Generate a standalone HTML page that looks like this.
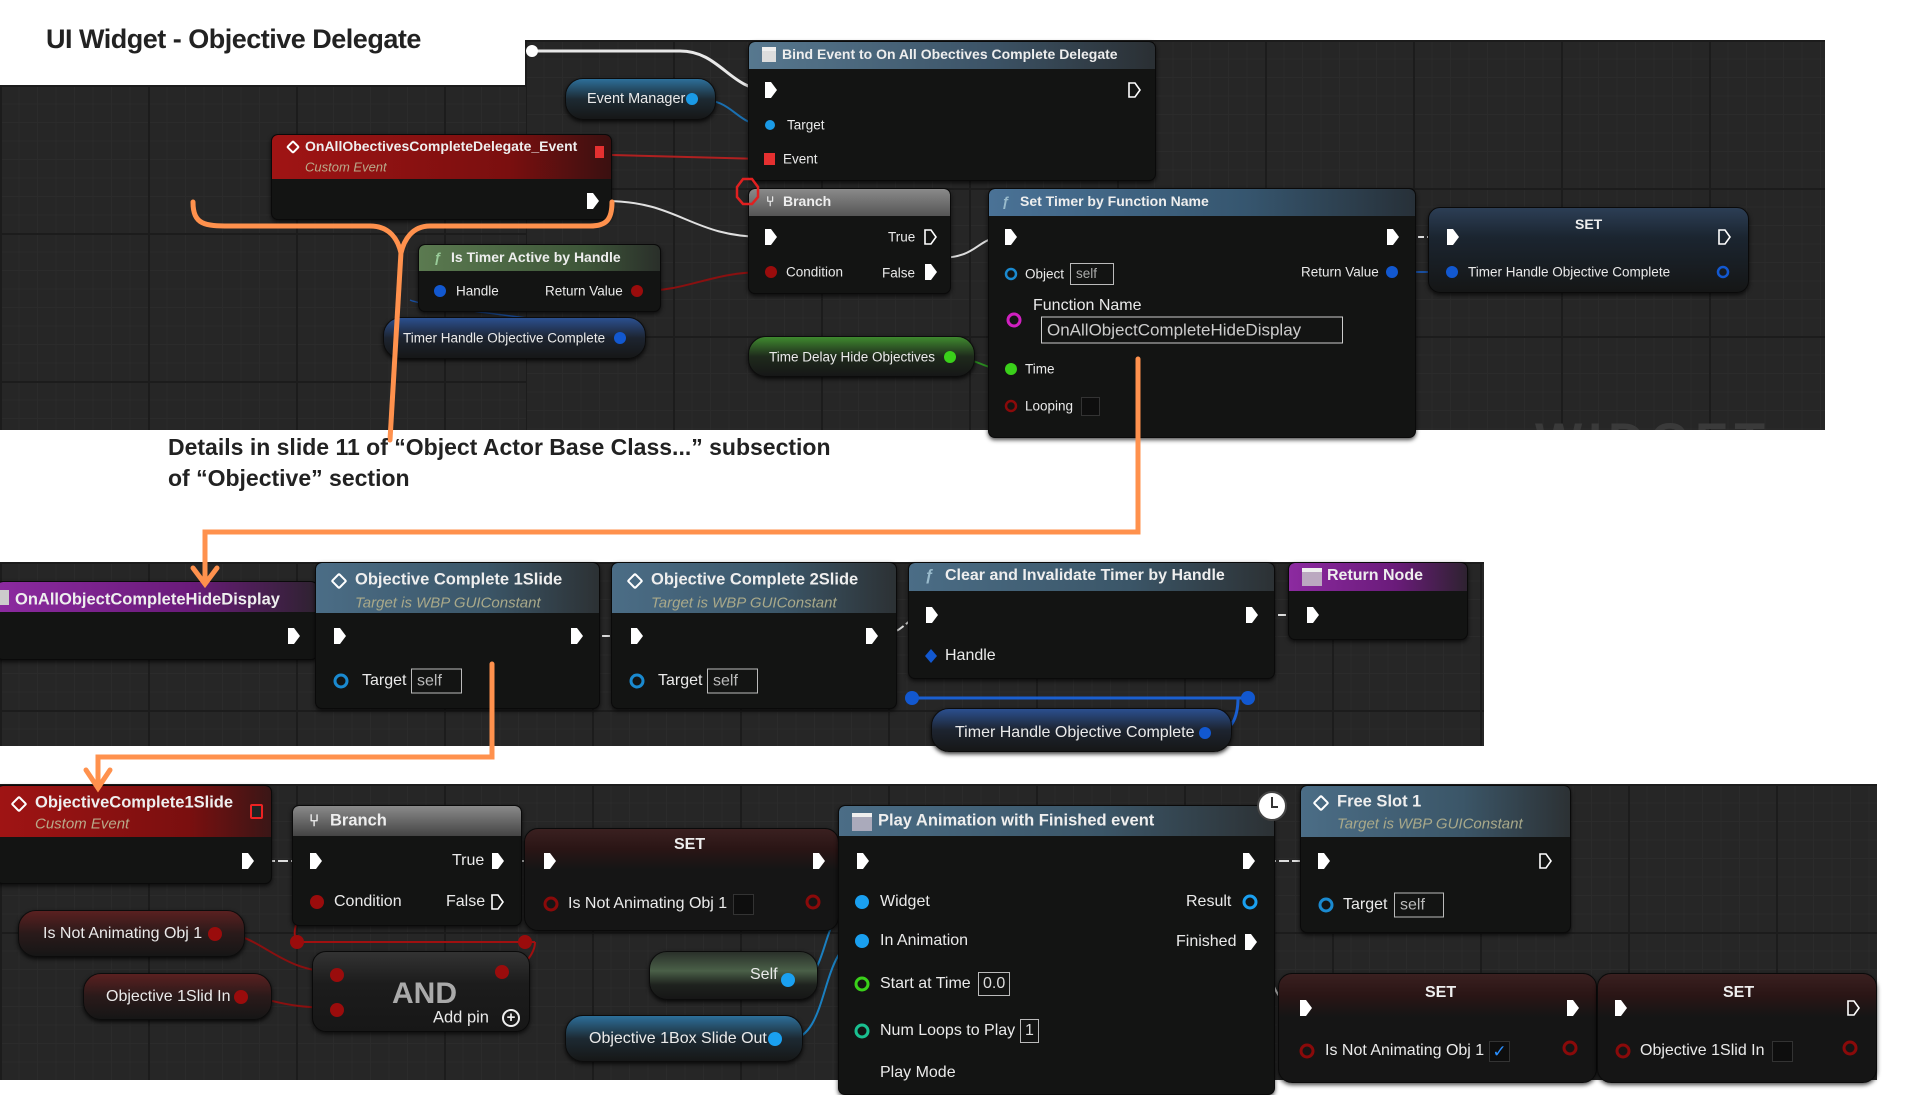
<!DOCTYPE html>
<html><head><meta charset="utf-8"><style>
*{margin:0;padding:0;box-sizing:border-box}
body{width:1920px;height:1080px;background:#fff;position:relative;overflow:hidden;font-family:"Liberation Sans",sans-serif}
.pan{position:absolute;background-color:#262626;background-image:linear-gradient(#1c1c1c 2px,transparent 2px),linear-gradient(90deg,#1c1c1c 2px,transparent 2px),linear-gradient(#2b2b2b 1px,transparent 1px),linear-gradient(90deg,#2b2b2b 1px,transparent 1px);background-size:148px 148px,148px 148px,18.5px 18.5px,18.5px 18.5px}
.n{position:absolute;background:#131413;border-radius:7px;box-shadow:0 2px 4px rgba(0,0,0,.7);border:1px solid #0a0a0a;overflow:hidden}
.h{position:absolute;left:0;right:0;top:0;border-radius:6px 6px 0 0}
.t{position:absolute;color:#eaeaea;font-size:14.5px;white-space:nowrap;transform:translateY(-50%)}
.ht{position:absolute;color:#eee;font-size:15px;font-weight:bold;white-space:nowrap;transform:translateY(-50%)}
.sub{position:absolute;color:#b9a98a;font-size:14px;font-style:italic;white-space:nowrap;transform:translateY(-50%)}
.pill{position:absolute;border-radius:18px;background:linear-gradient(#2a2d2f,#1a1b1b 60%,#151616);box-shadow:0 2px 4px rgba(0,0,0,.8);border:1px solid #0c0c0c}
.box{position:absolute;border:1px solid #bbb;color:#ddd;font-size:15px;padding:0 5px;transform:translateY(-50%);white-space:nowrap;line-height:20px}
.dia{position:absolute;width:12px;height:12px;border:2.5px solid #fff;border-left-color:#fff;transform:translate(-50%,-50%) rotate(45deg);border-radius:2px}
</style></head><body>

<!-- panels -->
<div class="pan" style="left:525px;top:40px;width:1300px;height:390px;overflow:hidden"><div style="position:absolute;left:1010px;top:372px;font-size:50px;font-weight:bold;color:#3a3a3a;letter-spacing:6px">WIDGET BL</div></div>
<div class="pan" style="left:0;top:85px;width:526px;height:345px"></div>
<div class="pan" style="left:0;top:562px;width:1484px;height:184px"></div>
<div class="pan" style="left:0;top:784px;width:1877px;height:296px"></div>

<div style="position:absolute;left:46px;top:24px;font-size:27px;font-weight:bold;color:#222;letter-spacing:-0.5px">UI Widget - Objective Delegate</div>

<!-- wires -->
<svg style="position:absolute;left:0;top:0" width="1920" height="1080">
<g fill="none" stroke-width="2">
<path d="M532 51 H680 C720 51 730 90 768 90" stroke="#e8e8e8" stroke-width="3"/>
<path d="M697 99 C735 99 735 125 765 125" stroke="#1a6fb0"/>
<path d="M612 155 L765 159" stroke="#b02020"/>
<path d="M605 201 C680 201 690 237 765 237" stroke="#e0e0e0"/>
<path d="M640 291 C690 291 710 272 765 272" stroke="#8a1010"/>
<path d="M628 335 C700 335 430 310 410 300" stroke="#1a4fa0" stroke-width="1.5"/>
<path d="M945 357 C980 357 980 369 1005 369" stroke="#2a8a20"/>
<path d="M938 258 C980 258 975 237 1005 237" stroke="#ddd"/>
<path d="M1400 237 H1448" stroke="#ddd" stroke-dasharray="6 3"/>
<path d="M1405 272 H1448" stroke="#1a4fa0"/>
<path d="M298 636 H334 M580 636 H631 M876 636 C905 636 905 615 928 615 M1256 615 H1307" stroke="#ddd" stroke-dasharray="8 3"/>
<path d="M912 698 H1250 M1238 698 C1238 720 1230 730 1218 735" stroke="#1a5fd0" stroke-width="3"/>
<path d="M252 861 H310 M502 861 H544 M823 861 H857 M1253 861 H1318 M1577 1008 H1615" stroke="#ddd" stroke-dasharray="10 3"/>
<path d="M1252 942 C1270 942 1265 1008 1300 1008" stroke="#ccc"/>
<path d="M297 942 H535 M297 942 C290 930 300 910 315 902 M535 942 C535 955 520 970 512 972" stroke="#a01010"/>
<path d="M225 934 C260 934 280 972 335 972" stroke="#8a1010"/>
<path d="M245 997 C270 997 280 1008 335 1008" stroke="#8a1010"/>
<path d="M800 980 C830 980 820 902 860 902 M790 1039 C830 1039 820 941 860 941" stroke="#1a7fc0"/>
</g>
</svg>

<!-- TOP nodes -->
<div class="pill" style="left:565px;top:78px;width:151px;height:42px;background:linear-gradient(#2d6f9a,#1d2a33 50%,#161717)"></div>
<div class="t" style="left:587px;top:99px">Event Manager</div>

<div class="n" style="left:748px;top:41px;width:408px;height:140px"><div class="h" style="height:27px;background:linear-gradient(90deg,#57788f,#3c5366 60%,#2a2f33)"></div></div>
<div style="position:absolute;left:762px;top:47px;width:14px;height:15px;background:#ddd;border-top:4px solid #eee"></div>
<div class="ht" style="left:782px;top:54px;font-size:14px">Bind Event to On All Obectives Complete Delegate</div>
<div class="t" style="left:787px;top:125px;font-size:13.5px">Target</div>
<div class="t" style="left:783px;top:159px;font-size:13.5px">Event</div>

<div class="n" style="left:271px;top:134px;width:341px;height:86px"><div class="h" style="height:44px;background:linear-gradient(90deg,#a01414,#7a0f0f 70%,#3a1010)"></div></div>
<div class="dia" style="left:293px;top:147px;width:10px;height:10px;border-width:2px"></div>
<div class="ht" style="left:305px;top:146px;font-size:14px">OnAllObectivesCompleteDelegate_Event</div>
<div class="sub" style="left:305px;top:167px;font-size:13px">Custom Event</div>

<div class="n" style="left:748px;top:188px;width:203px;height:106px"><div class="h" style="height:27px;background:linear-gradient(#8a8a8a,#555)"></div></div>
<div class="ht" style="left:766px;top:201px;font-size:14px">⑂</div>
<div class="ht" style="left:783px;top:201px;font-size:14px">Branch</div>
<div class="t" style="left:786px;top:272px;font-size:13.5px">Condition</div>
<div class="t" style="left:888px;top:237px;font-size:13.5px">True</div>
<div class="t" style="left:882px;top:273px;font-size:13.5px">False</div>

<div class="n" style="left:418px;top:244px;width:243px;height:68px"><div class="h" style="height:26px;background:linear-gradient(90deg,#5b7a50,#3d5538 70%,#2a2f2a)"></div></div>
<div class="ht" style="left:434px;top:257px;font-size:14px;color:#9c9">ƒ</div>
<div class="ht" style="left:451px;top:257px;font-size:14px">Is Timer Active by Handle</div>
<div class="t" style="left:456px;top:291px;font-size:13.5px">Handle</div>
<div class="t" style="left:545px;top:291px;font-size:13.5px">Return Value</div>

<div class="pill" style="left:383px;top:317px;width:263px;height:42px;background:linear-gradient(#2b4f8f,#1d2430 50%,#161717)"></div>
<div class="t" style="left:403px;top:338px;font-size:13.5px">Timer Handle Objective Complete</div>

<div class="pill" style="left:748px;top:336px;width:227px;height:41px;background:linear-gradient(#3f8a2f,#1f2a1c 50%,#161717)"></div>
<div class="t" style="left:769px;top:357px;font-size:13.5px">Time Delay Hide Objectives</div>

<div class="n" style="left:988px;top:188px;width:428px;height:250px"><div class="h" style="height:27px;background:linear-gradient(90deg,#4a7296,#36566f 60%,#273038)"></div></div>
<div class="ht" style="left:1002px;top:201px;font-size:14px;color:#9bc">ƒ</div>
<div class="ht" style="left:1020px;top:201px;font-size:14px">Set Timer by Function Name</div>
<div class="t" style="left:1025px;top:274px;font-size:13.5px">Object</div>
<div class="box" style="left:1070px;top:274px;font-size:13.5px;width:44px;color:#aaa">self</div>
<div class="t" style="left:1033px;top:306px;font-size:16px">Function Name</div>
<div class="box" style="left:1041px;top:330px;width:302px;height:27px;font-size:17px;line-height:25px;color:#ccc;border-color:#ccc">OnAllObjectCompleteHideDisplay</div>
<div class="t" style="left:1025px;top:369px;font-size:13.5px">Time</div>
<div class="t" style="left:1025px;top:406px;font-size:13.5px">Looping</div>
<div style="position:absolute;left:1081px;top:397px;width:19px;height:19px;border:1px solid #333;background:#0e0e0e"></div>
<div class="t" style="left:1301px;top:272px;font-size:13.5px">Return Value</div>

<div class="n" style="left:1428px;top:207px;width:321px;height:86px;border-radius:12px;background:linear-gradient(#2c3e55,#1b2530 35%,#151616)"></div>
<div class="ht" style="left:1575px;top:224px;font-size:14px;font-weight:bold">SET</div>
<div class="t" style="left:1468px;top:272px;font-size:13.5px">Timer Handle Objective Complete</div>

<!-- MIDDLE nodes -->
<div class="n" style="left:-4px;top:581px;width:322px;height:79px"><div class="h" style="height:30px;background:linear-gradient(90deg,#8c2aa0,#6a1b7a 60%,#2e2230)"></div></div>
<div style="position:absolute;left:0;top:590px;width:9px;height:15px;background:#ccc"></div>
<div class="ht" style="left:15px;top:600px;font-size:16.5px">OnAllObjectCompleteHideDisplay</div>

<div class="n" style="left:315px;top:562px;width:285px;height:147px"><div class="h" style="height:50px;background:linear-gradient(90deg,#4b6d86,#3b5668 60%,#2c3134)"></div></div>
<div class="dia" style="left:339px;top:581px"></div>
<div class="ht" style="left:355px;top:580px;font-size:16.5px">Objective Complete 1Slide</div>
<div class="sub" style="left:355px;top:603px;font-size:15px;color:#a9a98a">Target is WBP GUIConstant</div>
<div class="t" style="left:362px;top:681px;font-size:16px">Target</div>
<div class="box" style="left:411px;top:681px;width:51px;height:25px;line-height:23px;font-size:16px;color:#bbb">self</div>

<div class="n" style="left:611px;top:562px;width:286px;height:147px"><div class="h" style="height:50px;background:linear-gradient(90deg,#4b6d86,#3b5668 60%,#2c3134)"></div></div>
<div class="dia" style="left:635px;top:581px"></div>
<div class="ht" style="left:651px;top:580px;font-size:16.5px">Objective Complete 2Slide</div>
<div class="sub" style="left:651px;top:603px;font-size:15px;color:#a9a98a">Target is WBP GUIConstant</div>
<div class="t" style="left:658px;top:681px;font-size:16px">Target</div>
<div class="box" style="left:707px;top:681px;width:51px;height:25px;line-height:23px;font-size:16px;color:#bbb">self</div>

<div class="n" style="left:908px;top:562px;width:367px;height:117px"><div class="h" style="height:28px;background:linear-gradient(90deg,#4b6d86,#3b5668 60%,#2c3134)"></div></div>
<div class="ht" style="left:925px;top:576px;font-size:16px;color:#9bc">ƒ</div>
<div class="ht" style="left:945px;top:576px;font-size:16px">Clear and Invalidate Timer by Handle</div>
<div class="t" style="left:945px;top:656px;font-size:16px">Handle</div>

<div class="n" style="left:1288px;top:562px;width:180px;height:78px"><div class="h" style="height:28px;background:linear-gradient(90deg,#8c2aa0,#6a1b7a 60%,#2e2230)"></div></div>
<div style="position:absolute;left:1302px;top:568px;width:20px;height:18px;background:#bba8c0;border-top:4px solid #eee"></div>
<div class="ht" style="left:1327px;top:576px;font-size:16px">Return Node</div>

<div class="pill" style="left:931px;top:708px;width:301px;height:44px;background:linear-gradient(#2b4f8f,#1d2430 50%,#161717)"></div>
<div class="t" style="left:955px;top:733px;font-size:16px">Timer Handle Objective Complete</div>

<!-- BOTTOM nodes -->
<div class="n" style="left:-4px;top:785px;width:276px;height:99px"><div class="h" style="height:51px;background:linear-gradient(90deg,#a01414,#7a0f0f 70%,#3a1616)"></div></div>
<div class="dia" style="left:19px;top:804px"></div>
<div class="ht" style="left:35px;top:803px;font-size:16.5px">ObjectiveComplete1Slide</div>
<div class="sub" style="left:35px;top:824px;font-size:15px">Custom Event</div>
<div style="position:absolute;left:250px;top:804px;width:13px;height:15px;border:2px solid #e22;background:#222;border-radius:2px"></div>

<div class="n" style="left:292px;top:805px;width:230px;height:121px"><div class="h" style="height:30px;background:linear-gradient(#8a8a8a,#444)"></div></div>
<div class="ht" style="left:309px;top:821px;font-size:17px">⑂</div>
<div class="ht" style="left:330px;top:821px;font-size:16.5px">Branch</div>
<div class="t" style="left:334px;top:902px;font-size:16px">Condition</div>
<div class="t" style="left:452px;top:861px;font-size:16px">True</div>
<div class="t" style="left:446px;top:902px;font-size:16px">False</div>

<div class="n" style="left:524px;top:828px;width:315px;height:103px;border-radius:14px;background:linear-gradient(#3a2020,#2a1515 20%,#151515 40%)"></div>
<div class="ht" style="left:674px;top:845px;font-size:16px">SET</div>
<div class="t" style="left:568px;top:904px;font-size:16px">Is Not Animating Obj 1</div>
<div style="position:absolute;left:733px;top:894px;width:21px;height:21px;background:#0e0e0e;border:1px solid #333"></div>

<div class="n" style="left:838px;top:805px;width:437px;height:290px"><div class="h" style="height:30px;background:linear-gradient(90deg,#4b6d86,#3b5668 60%,#2c3134)"></div></div>
<div style="position:absolute;left:852px;top:813px;width:20px;height:18px;background:#aab;border-top:4px solid #eee"></div>
<div class="ht" style="left:878px;top:821px;font-size:16.5px">Play Animation with Finished event</div>
<div class="t" style="left:880px;top:902px;font-size:16px">Widget</div>
<div class="t" style="left:880px;top:941px;font-size:16px">In Animation</div>
<div class="t" style="left:880px;top:984px;font-size:16px">Start at Time</div>
<div class="box" style="left:978px;top:984px;font-size:16px;padding:0 4px;height:24px;line-height:22px">0.0</div>
<div class="t" style="left:880px;top:1031px;font-size:16px">Num Loops to Play</div>
<div class="box" style="left:1020px;top:1031px;font-size:16px;padding:0 4px;height:24px;line-height:22px">1</div>
<div class="t" style="left:880px;top:1073px;font-size:16px">Play Mode</div>
<div class="t" style="left:1186px;top:902px;font-size:16px">Result</div>
<div class="t" style="left:1176px;top:942px;font-size:16px">Finished</div>
<div style="position:absolute;left:1257px;top:791px;width:30px;height:30px;border-radius:50%;background:#fff;border:2px solid #444"></div>
<div style="position:absolute;left:1271px;top:797px;width:2px;height:11px;background:#333"></div>
<div style="position:absolute;left:1271px;top:806px;width:7px;height:2px;background:#333"></div>

<div class="n" style="left:1300px;top:785px;width:271px;height:148px"><div class="h" style="height:51px;background:linear-gradient(90deg,#4b6d86,#3b5668 60%,#2c3134)"></div></div>
<div class="dia" style="left:1321px;top:803px"></div>
<div class="ht" style="left:1337px;top:802px;font-size:16.5px">Free Slot 1</div>
<div class="sub" style="left:1337px;top:824px;font-size:15px;color:#a9a98a">Target is WBP GUIConstant</div>
<div class="t" style="left:1343px;top:905px;font-size:16px">Target</div>
<div class="box" style="left:1394px;top:905px;width:50px;height:25px;line-height:23px;font-size:16px;color:#bbb">self</div>

<div class="n" style="left:1278px;top:973px;width:319px;height:110px;border-radius:14px;background:linear-gradient(#3a2020,#2a1515 20%,#151515 40%)"></div>
<div class="ht" style="left:1425px;top:993px;font-size:16px">SET</div>
<div class="t" style="left:1325px;top:1051px;font-size:16px">Is Not Animating Obj 1</div>
<div style="position:absolute;left:1489px;top:1041px;width:21px;height:21px;background:#0e0e0e;border:1px solid #333;color:#2a8fff;font-size:17px;line-height:19px;text-align:center">✓</div>
<div class="n" style="left:1597px;top:973px;width:280px;height:110px;border-radius:14px;background:linear-gradient(#3a2020,#2a1515 20%,#151515 40%)"></div>
<div class="ht" style="left:1723px;top:993px;font-size:16px">SET</div>
<div class="t" style="left:1640px;top:1051px;font-size:16px">Objective 1Slid In</div>
<div style="position:absolute;left:1772px;top:1041px;width:21px;height:21px;background:#0e0e0e;border:1px solid #333"></div>

<div class="pill" style="left:18px;top:910px;width:227px;height:47px;background:linear-gradient(#5a2020,#2a1a1a 50%,#161616)"></div>
<div class="t" style="left:43px;top:934px;font-size:16px">Is Not Animating Obj 1</div>
<div class="pill" style="left:83px;top:973px;width:189px;height:47px;background:linear-gradient(#5a2020,#2a1a1a 50%,#161616)"></div>
<div class="t" style="left:106px;top:997px;font-size:16px">Objective 1Slid In</div>
<div class="n" style="left:312px;top:951px;width:218px;height:81px;border-radius:14px;background:linear-gradient(#333,#1c1c1c 40%,#171717)"></div>
<div class="ht" style="left:392px;top:994px;font-size:30px;color:#aaa">AND</div>
<div class="t" style="left:433px;top:1018px;font-size:16.5px">Add pin</div>
<div style="position:absolute;left:502px;top:1009px;width:18px;height:18px;border:2px solid #eee;border-radius:50%;color:#eee;font-size:15px;line-height:13px;text-align:center;font-weight:bold">+</div>
<div class="pill" style="left:649px;top:951px;width:169px;height:49px;background:linear-gradient(#2a302a,#4a6048 40%,#1e221e 70%,#161616)"></div>
<div class="t" style="left:750px;top:975px;font-size:16px">Self</div>
<div class="pill" style="left:565px;top:1015px;width:238px;height:47px;background:linear-gradient(#2d6f9a,#1d2a33 50%,#161717)"></div>
<div class="t" style="left:589px;top:1039px;font-size:16px">Objective 1Box Slide Out</div>

<!-- pins -->
<svg style="position:absolute;left:0;top:0" width="1920" height="1080">
<defs>
<path id="ex" d="M-5 -8 H1 L7 0 L1 8 H-5 Z" fill="#fff"/>
<path id="exo" d="M-5 -7 H1 L6 0 L1 7 H-5 Z" fill="none" stroke="#fff" stroke-width="1.6"/>
</defs>
<g>
<circle cx="532" cy="51" r="6" fill="#fff"/>
<use href="#ex" x="770" y="90"/><use href="#exo" x="1134" y="90"/>
<circle cx="770" cy="125" r="5" fill="#1a9ae6"/><rect x="764" y="153" width="11" height="12" fill="#e53030"/>
<circle cx="692" cy="99" r="6" fill="#1a9ae6"/>
<rect x="595" y="146" width="9" height="12" fill="#e53030"/>
<use href="#ex" x="592" y="201"/>
<polygon points="743,179 752,179 758,187 758,197 752,204 743,204 737,197 737,187" fill="none" stroke="#e02020" stroke-width="2.5"/>
<use href="#ex" x="770" y="237"/><use href="#exo" x="930" y="237"/><use href="#ex" x="930" y="272"/>
<circle cx="771" cy="272" r="6" fill="#9a0c0c"/>
<circle cx="440" cy="291" r="6" fill="#1258d0"/><circle cx="637" cy="291" r="6" fill="#9a0c0c"/>
<circle cx="620" cy="338" r="6" fill="#1258d0"/>
<circle cx="950" cy="357" r="6" fill="#3ad01a"/>
<use href="#ex" x="1010" y="237"/><use href="#ex" x="1392" y="237"/>
<circle cx="1011" cy="274" r="5" fill="none" stroke="#1a8ad0" stroke-width="2.5"/>
<circle cx="1014" cy="320" r="6" fill="none" stroke="#d020c0" stroke-width="3"/>
<circle cx="1011" cy="369" r="6" fill="#3ad01a"/>
<circle cx="1011" cy="406" r="5" fill="none" stroke="#8a0a0a" stroke-width="2.5"/>
<circle cx="1392" cy="272" r="6" fill="#1258d0"/>
<use href="#ex" x="1452" y="237"/><use href="#exo" x="1724" y="237"/>
<circle cx="1452" cy="272" r="6" fill="#1258d0"/><circle cx="1723" cy="272" r="5" fill="none" stroke="#1258d0" stroke-width="2.5"/>

<use href="#ex" x="293" y="636"/><use href="#ex" x="339" y="636"/><use href="#ex" x="576" y="636"/><use href="#ex" x="636" y="636"/><use href="#ex" x="871" y="636"/>
<use href="#ex" x="931" y="615"/><use href="#ex" x="1251" y="615"/><use href="#ex" x="1312" y="615"/>
<circle cx="341" cy="681" r="6" fill="none" stroke="#1a8ad0" stroke-width="3"/><circle cx="637" cy="681" r="6" fill="none" stroke="#1a8ad0" stroke-width="3"/>
<path d="M931 649 L937 656 L931 663 L925 656 Z" fill="#1258d0"/>
<circle cx="912" cy="698" r="7" fill="#1258d0"/><circle cx="1248" cy="698" r="7" fill="#1258d0"/><circle cx="1205" cy="733" r="6" fill="#1258d0"/>

<use href="#ex" x="247" y="861"/><use href="#ex" x="315" y="861"/><use href="#ex" x="497" y="861"/><use href="#exo" x="497" y="902"/>
<circle cx="317" cy="902" r="7" fill="#9a0c0c"/>
<use href="#ex" x="549" y="861"/><use href="#ex" x="818" y="861"/>
<circle cx="551" cy="904" r="6" fill="none" stroke="#8a0a0a" stroke-width="3"/><circle cx="813" cy="902" r="6" fill="none" stroke="#8a0a0a" stroke-width="3"/>
<circle cx="297" cy="942" r="7" fill="#9a0c0c"/><circle cx="525" cy="942" r="7" fill="#9a0c0c"/>
<circle cx="215" cy="934" r="7" fill="#9a0c0c"/><circle cx="241" cy="997" r="7" fill="#9a0c0c"/>
<circle cx="337" cy="975" r="7" fill="#9a0c0c"/><circle cx="337" cy="1010" r="7" fill="#9a0c0c"/><circle cx="502" cy="972" r="7" fill="#9a0c0c"/>
<circle cx="788" cy="980" r="7" fill="#1aa0f0"/><circle cx="775" cy="1039" r="7" fill="#1aa0f0"/>
<use href="#ex" x="862" y="861"/><use href="#ex" x="1248" y="861"/>
<circle cx="862" cy="902" r="7" fill="#1aa0f0"/><circle cx="862" cy="941" r="7" fill="#1aa0f0"/>
<circle cx="862" cy="984" r="6" fill="none" stroke="#3ad01a" stroke-width="3"/><circle cx="862" cy="1031" r="6" fill="none" stroke="#1ac090" stroke-width="3"/>
<circle cx="1250" cy="902" r="6" fill="none" stroke="#1aa0f0" stroke-width="3"/><use href="#ex" x="1250" y="942"/>
<use href="#ex" x="1323" y="861"/><use href="#exo" x="1545" y="861"/>
<circle cx="1326" cy="905" r="6" fill="none" stroke="#1a8ad0" stroke-width="3"/>
<use href="#ex" x="1305" y="1008"/><use href="#ex" x="1572" y="1008"/><use href="#ex" x="1620" y="1008"/><use href="#exo" x="1853" y="1008"/>
<circle cx="1307" cy="1051" r="6" fill="none" stroke="#8a0a0a" stroke-width="3"/><circle cx="1570" cy="1048" r="6" fill="none" stroke="#8a0a0a" stroke-width="3"/>
<circle cx="1623" cy="1051" r="6" fill="none" stroke="#8a0a0a" stroke-width="3"/><circle cx="1850" cy="1048" r="6" fill="none" stroke="#8a0a0a" stroke-width="3"/>
</g>
<!-- orange annotations -->
<g fill="none" stroke="#ff914d" stroke-width="5" stroke-linecap="round">
<path d="M193 202 C193 225 205 226 230 226 H370 C390 226 398 240 401 253 C404 240 412 226 430 226 H590 C606 226 612 220 612 202"/>
<path d="M401 252 L390 440"/>
<path d="M1138 359 V532 H205 V582"/>
<path d="M193 568 L205 584 L217 568"/>
<path d="M492 664 V757 H98 V786"/>
<path d="M86 770 L98 788 L110 770"/>
</g>
</svg>

<div style="position:absolute;left:168px;top:432px;font-size:23px;font-weight:bold;color:#222;line-height:31px;white-space:nowrap">Details in slide 11 of “Object Actor Base Class...” subsection<br>of “Objective” section</div>
</body></html>
